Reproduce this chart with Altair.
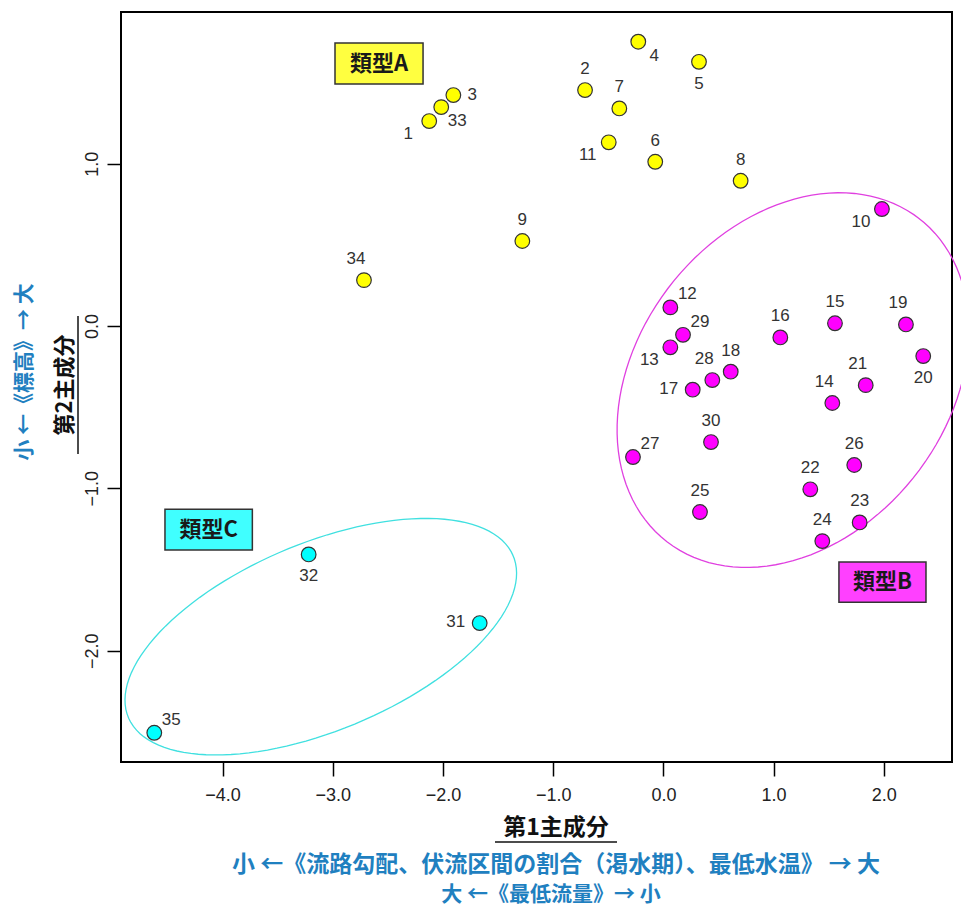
import altair as alt
import pandas as pd

# ---------------- data ----------------
ids = list(range(1, 36))
pc1 = [-2.125, -0.711, -1.906, -0.228, 0.323, -0.074, -0.400, 0.701, -1.280, 1.983,
       -0.496, 0.063, 0.063, 1.533, 1.557, 1.061, 0.266, 0.611, 2.201, 2.358,
       1.836, 1.333, 1.781, 1.442, 0.332, 1.732, -0.276, 0.444, 0.178, 0.432,
       -1.667, -3.219, -2.016, -2.717, -4.620]
pc2 = [1.263, 1.454, 1.423, 1.752, 1.628, 1.012, 1.341, 0.895, 0.524, 0.721,
       1.132, 0.115, -0.131, -0.474, 0.017, -0.070, -0.392, -0.281, 0.010, -0.185,
       -0.364, -1.006, -1.210, -1.325, -1.146, -0.856, -0.807, -0.333, -0.054, -0.715,
       -1.830, -1.407, 1.349, 0.283, -2.506]
group = ["A", "A", "A", "A", "A", "A", "A", "A", "A", "B",
         "A", "B", "B", "B", "B", "B", "B", "B", "B", "B",
         "B", "B", "B", "B", "B", "B", "B", "B", "B", "B",
         "C", "C", "A", "A", "C"]

group_names = ["A", "B", "C"]
group_labels = ["類型A", "類型B", "類型C"]

# ellipse outlines (center, major half-axis vector, minor half-axis vector; data units)
ell_cx = [1.176, -3.109]
ell_cy = [-0.333, -1.914]
ell_ax = [1.153, 1.746]
ell_ay = [0.991, 0.498]
ell_bx = [-1.104, -0.3295]
ell_by = [0.592, 0.532]

# type boxes (data units)
box_x1 = [-2.980, 1.593, -4.523]
box_x2 = [-2.181, 2.383, -3.730]
box_y1 = [1.744, -1.454, -1.128]
box_y2 = [1.491, -1.701, -1.380]

x_ticks = [-4, -3, -2, -1, 0, 1, 2]
y_ticks = [-2, -1, 0, 1]

x_title = "第1主成分"
y_title = "第2主成分"
x_note1 = "小 ←《流路勾配、伏流区間の割合（渇水期）、最低水温》 → 大"
x_note2 = "大 ←《最低流量》→ 小"
y_note = "小 ←《標高》→ 大"

# label placement groups (which side of the point the number sits)
label_groups = {
    "above": [2, 6, 7, 8, 9, 15, 16, 18, 22, 23, 24, 25, 26, 30],
    "above_left": [14, 19, 21, 28, 34],
    "below": [5, 20, 32],
    "right": [3],
    "right_above": [12, 27, 29, 35],
    "right_below": [4, 33],
    "left": [17, 31],
    "left_below": [1, 10, 11, 13],
}

# ---------------- styles ----------------
point_fill = ["#FFFF00", "#FF00FF", "#00FFFF"]
box_fill = ["#FFFF40", "#FF40FF", "#40FFFF"]
ell_color = ["#E040E0", "#40E0E0"]
blue = "#1F80C0"
label_offsets = {
    "above": (0, -21), "above_left": (-8, -21), "below": (0, 22), "right": (19, 0),
    "right_above": (17, -13), "right_below": (16, 14), "left": (-24, -1),
    "left_below": (-21, 13),
}

df = pd.DataFrame({"id": ids, "pc1": pc1, "pc2": pc2, "group": group})
boxes = pd.DataFrame({"group": group_names, "label": group_labels,
                      "x1": box_x1, "x2": box_x2, "y1": box_y1, "y2": box_y2})

x_scale = alt.Scale(domain=[-4.922, 2.619], nice=False, zero=False)
y_scale = alt.Scale(domain=[-2.686, 1.935], nice=False, zero=False)
x_axis = alt.Axis(values=x_ticks, format=".1f", title=None, labelPadding=10)
y_axis = alt.Axis(values=y_ticks, format=".1f", title=None, labelAngle=270,
                  labelAlign="center", labelBaseline="bottom", labelPadding=6)


def X(field):
    return alt.X(field, type="quantitative", scale=x_scale, axis=x_axis)


def Y(field):
    return alt.Y(field, type="quantitative", scale=y_scale, axis=y_axis)


layers = []

# ellipses
for i in range(len(ell_cx)):
    e = alt.Chart(alt.sequence(0, 6.35, 0.05, as_="t")).transform_calculate(
        ex=f"{ell_cx[i]} + {ell_ax[i]}*cos(datum.t) + {ell_bx[i]}*sin(datum.t)",
        ey=f"{ell_cy[i]} + {ell_ay[i]}*cos(datum.t) + {ell_by[i]}*sin(datum.t)",
    ).mark_line(color=ell_color[i], strokeWidth=1.3).encode(
        x=X("ex"), y=Y("ey"), order="t:Q")
    layers.append(e)

# points
pts = alt.Chart(df).mark_circle(size=215, stroke="#333333", strokeWidth=1.2, opacity=1).encode(
    x=X("pc1"), y=Y("pc2"),
    fill=alt.Fill("group:N", scale=alt.Scale(domain=group_names, range=point_fill), legend=None),
)
layers.append(pts)

# point labels
for pos, lst in label_groups.items():
    dx, dy = label_offsets[pos]
    t = alt.Chart(df).transform_filter(
        alt.FieldOneOfPredicate(field="id", oneOf=lst)
    ).mark_text(dx=dx, dy=dy, fontSize=17, font="Liberation Sans", color="#333333",
                align="center", baseline="middle").encode(
        x=X("pc1"), y=Y("pc2"), text="id:N")
    layers.append(t)

# type boxes
rect = alt.Chart(boxes).mark_rect(stroke="#333333", strokeWidth=1.5).encode(
    x=X("x1"), x2="x2", y=Y("y1"), y2="y2",
    color=alt.Color("group:N", scale=alt.Scale(domain=group_names, range=box_fill), legend=None),
)
layers.append(rect)
rect_text = alt.Chart(boxes).transform_calculate(
    xc="(datum.x1 + datum.x2) / 2", yc="(datum.y1 + datum.y2) / 2"
).mark_text(fontSize=22, fontWeight="bold", font="Noto Sans CJK JP", color="#1a1a1a",
            align="center", baseline="middle").encode(
    x=X("xc"), y=Y("yc"), text="label:N")
layers.append(rect_text)


# titles and notes (outside the plot, pixel-placed)
def note(txt, x, y, size, color, weight="normal", angle=0):
    return alt.Chart(pd.DataFrame({"t": [txt]})).mark_text(
        fontSize=size, font="Noto Sans CJK JP", color=color, fontWeight=weight,
        angle=angle, align="center", baseline="middle").encode(
        x=alt.value(x), y=alt.value(y), text="t:N")


layers.append(note(x_title, 435, 816, 23, "#111111", "bold"))
layers.append(alt.Chart(pd.DataFrame({"a": [0]})).mark_rule(color="#111111", strokeWidth=1.5).encode(
    x=alt.value(374), x2=alt.value(496), y=alt.value(830)))
layers.append(note(x_note1, 435, 853, 23, blue, "bold"))
layers.append(note(x_note2, 430, 883, 21, blue, "bold"))
layers.append(note(y_title, -56, 373, 22, "#111111", "bold", 270))
layers.append(alt.Chart(pd.DataFrame({"a": [0]})).mark_rule(color="#111111", strokeWidth=1.5).encode(
    x=alt.value(-43), y=alt.value(304), y2=alt.value(442)))
layers.append(note(y_note, -96, 360, 21, blue, "bold", 270))

chart = alt.layer(*layers).resolve_scale(color="independent", fill="independent").properties(
    width=831, height=750,
    autosize=alt.AutoSizeParams(type="none"),
    padding={"left": 113, "top": 4, "right": 9, "bottom": 145},
).configure_view(stroke="#000000", strokeWidth=2).configure_axis(
    domain=False, grid=False, ticks=True, tickColor="#000000", tickWidth=1.5, tickSize=14,
    labelFont="Liberation Sans Narrow, Liberation Sans", labelFontSize=18, labelColor="#222222",
)

chart.save("out.html", embed_options={"renderer": "svg", "actions": False})
